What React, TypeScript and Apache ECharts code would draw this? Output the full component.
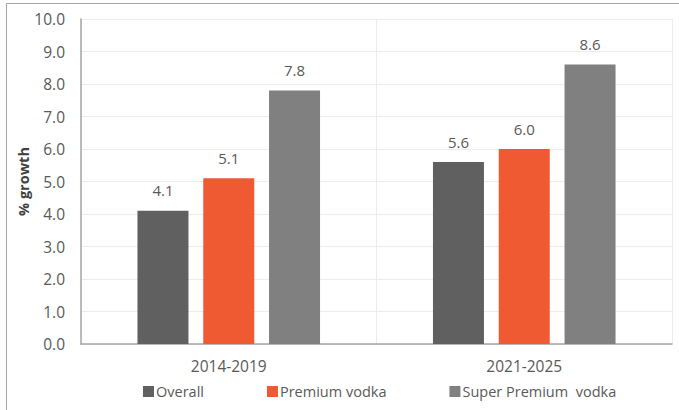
import React, { useEffect, useRef } from "react";
import * as echarts from "echarts";

const categories = ["2014-2019", "2021-2025"];
const overall = [4.1, 5.6];
const premiumVodka = [5.1, 6.0];
const superPremiumVodka = [7.8, 8.6];
const seriesNames = ["Overall", "Premium vodka", "Super Premium  vodka"];

const FONT = "'Open Sans', Lato, sans-serif";

export default function App() {
  const ref = useRef<HTMLDivElement>(null);
  useEffect(() => {
    if (!ref.current) return;
    const chart = echarts.init(ref.current, undefined, { renderer: "svg" });
    const label = {
      show: true,
      position: "top",
      distance: 13,
      color: "#595959",
      fontSize: 15,
      fontFamily: FONT,
      formatter: (p: any) => Number(p.value).toFixed(1),
    };
    const mk = (name: string, data: number[], color: string) => ({
      name,
      type: "bar",
      data,
      barWidth: 51,
      barGap: "29%",
      itemStyle: { color },
      label,
    });
    chart.setOption({
      animation: false,
      textStyle: { fontFamily: FONT },
      graphic: [
        {
          type: "rect",
          shape: { x: 6.5, y: 3.5, width: 700, height: 450 },
          style: { fill: "none", stroke: "#a6a6a6", lineWidth: 1 },
          silent: true,
        },
      ],
      grid: { left: 81, right: 7, top: 19, bottom: 66 },
      legend: {
        data: seriesNames,
        bottom: 6,
        left: 138,
        itemWidth: 11,
        itemHeight: 11,
        itemGap: 63,
        icon: "rect",
        textStyle: { color: "#595959", fontSize: 14.5, fontFamily: FONT, padding: [0, 0, 0, -3] },
      },
      xAxis: {
        type: "category",
        data: categories,
        axisLine: { show: true, lineStyle: { color: "#a6a6a6", width: 1.5 } },
        axisTick: { show: false },
        splitLine: { show: true, lineStyle: { color: "#ececec", width: 1 } },
        axisLabel: { color: "#595959", fontSize: 15.5, fontFamily: FONT, margin: 14 },
      },
      yAxis: {
        type: "value",
        min: 0,
        max: 10,
        interval: 1,
        name: "% growth",
        nameLocation: "middle",
        nameGap: 50,
        nameMoveOverlap: false,
        nameTextStyle: { color: "#404040", fontSize: 14.5, fontWeight: "bold", fontFamily: FONT },
        axisLine: { show: true, lineStyle: { color: "#a6a6a6", width: 1.5 } },
        axisTick: { show: false },
        splitLine: { show: true, lineStyle: { color: "#ececec", width: 1 } },
        axisLabel: {
          color: "#595959",
          fontSize: 15.5,
          fontFamily: FONT,
          margin: 16,
          formatter: (v: number) => v.toFixed(1),
        },
      },
      series: [
        mk(seriesNames[0], overall, "#606060"),
        mk(seriesNames[1], premiumVodka, "#F05A32"),
        mk(seriesNames[2], superPremiumVodka, "#808080"),
      ],
    });
    return () => chart.dispose();
  }, []);
  return (
    <div
      ref={ref}
      style={{ position: "fixed", left: 0, top: 0, width: 679, height: 410, background: "#fff" }}
    />
  );
}
